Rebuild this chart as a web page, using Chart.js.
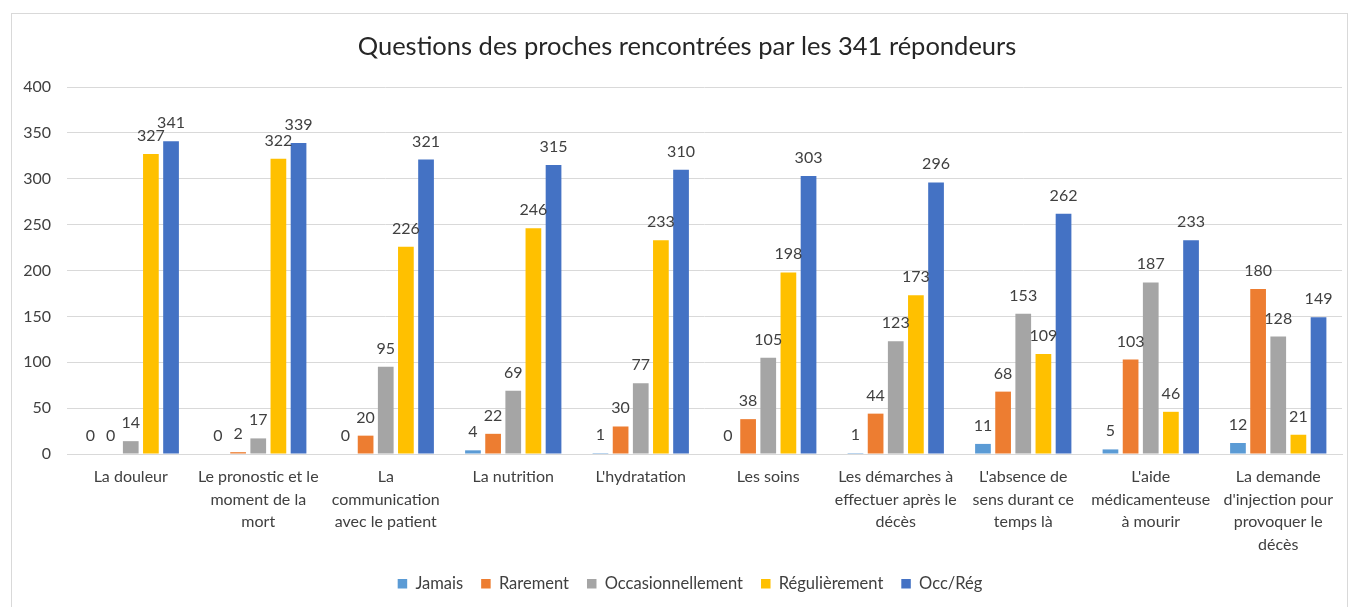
<!DOCTYPE html>
<html>
<head>
<meta charset="utf-8">
<script src="https://cdn.jsdelivr.net/npm/chart.js@4/dist/chart.umd.min.js"></script>
<style>
  html, body { margin: 0; padding: 0; background: #fff; overflow: hidden; }
  #frame { position: absolute; left: 11px; top: 13px; width: 1337px; height: 620px; border: 1px solid #d9d9d9; box-sizing: border-box; }
  #c { position: absolute; left: 0; top: 0; }
</style>
</head>
<body>
<div id="frame"></div>
<canvas id="c" width="1354" height="607"></canvas>
<script>
const categories = [
  "La douleur",
  ["Le pronostic et le", "moment de la", "mort"],
  ["La", "communication", "avec le patient"],
  "La nutrition",
  "L'hydratation",
  "Les soins",
  ["Les démarches à", "effectuer après le", "décès"],
  ["L'absence de", "sens durant ce", "temps là"],
  ["L'aide", "médicamenteuse", "à mourir"],
  ["La demande", "d'injection pour", "provoquer le", "décès"]
];
const jamais = [0, 0, 0, 4, 1, 0, 1, 11, 5, 12];
const rarement = [0, 2, 20, 22, 30, 38, 44, 68, 103, 180];
const occasionnellement = [14, 17, 95, 69, 77, 105, 123, 153, 187, 128];
const regulierement = [327, 322, 226, 246, 233, 198, 173, 109, 46, 21];
const occReg = [341, 339, 321, 315, 310, 303, 296, 262, 233, 149];
const yTicks = [0, 50, 100, 150, 200, 250, 300, 350, 400];

const FONT = "Lato, 'Open Sans', sans-serif";

const valueLabels = {
  id: 'valueLabels',
  afterDatasetsDraw(chart) {
    const ctx = chart.ctx;
    ctx.save();
    ctx.font = "16px " + FONT;
    ctx.fillStyle = '#404040';
    ctx.textAlign = 'center';
    ctx.textBaseline = 'alphabetic';
    chart.data.datasets.forEach((ds, i) => {
      const meta = chart.getDatasetMeta(i);
      meta.data.forEach((bar, j) => {
        ctx.fillText(String(ds.data[j]), bar.x, bar.y - 13);
      });
    });
    ctx.restore();
  }
};

// Shift title and legend so they are centred like the original chart frame
const centreShift = {
  id: 'centreShift',
  afterLayout(chart) {
    if (chart.titleBlock) { chart.titleBlock.left += 16; chart.titleBlock.right += 16; }
    if (chart.legend) { chart.legend.left += 19; chart.legend.right += 19; }
  }
};

const mk = (label, data, color) => ({
  label, data, backgroundColor: color, borderWidth: 0,
  categoryPercentage: 0.79, barPercentage: 0.78
});

new Chart(document.getElementById('c'), {
  type: 'bar',
  data: {
    labels: categories,
    datasets: [
      mk('Jamais', jamais, '#5B9BD5'),
      mk('Rarement', rarement, '#ED7D31'),
      mk('Occasionnellement', occasionnellement, '#A5A5A5'),
      mk('Régulièrement', regulierement, '#FFC000'),
      mk('Occ/Rég', occReg, '#4472C4')
    ]
  },
  options: {
    responsive: false,
    devicePixelRatio: 1,
    animation: false,
    layout: { padding: { left: 0, right: 12, top: 0, bottom: 5 } },
    plugins: {
      title: {
        display: true,
        text: 'Questions des proches rencontrées par les 341 répondeurs',
        font: { family: FONT, size: 25.5, weight: 'normal' },
        color: '#262626',
        padding: { top: 31, bottom: 25.5 }
      },
      legend: {
        position: 'bottom',
        labels: {
          font: { family: FONT, size: 16.5 },
          color: '#404040',
          boxWidth: 9.5, boxHeight: 9.5,
          padding: 18
        }
      },
      tooltip: { enabled: false }
    },
    scales: {
      x: {
        grid: { display: false, drawTicks: false },
        border: { display: true, color: '#d9d9d9' },
        ticks: {
          font: { family: FONT, size: 16, lineHeight: 1.4 },
          color: '#404040',
          maxRotation: 0, autoSkip: false, padding: 12
        },
        afterFit(scale) { scale.height = 103.5; }
      },
      y: {
        min: 0, max: 400,
        afterBuildTicks(scale) { scale.ticks = yTicks.map(v => ({ value: v })); },
        grid: { color: '#d9d9d9', drawTicks: false },
        border: { display: false },
        ticks: {
          font: { family: FONT, size: 16 },
          color: '#404040',
          padding: 16
        },
        afterFit(scale) { scale.width = 67; }
      }
    }
  },
  plugins: [valueLabels, centreShift]
});
</script>
</body>
</html>
